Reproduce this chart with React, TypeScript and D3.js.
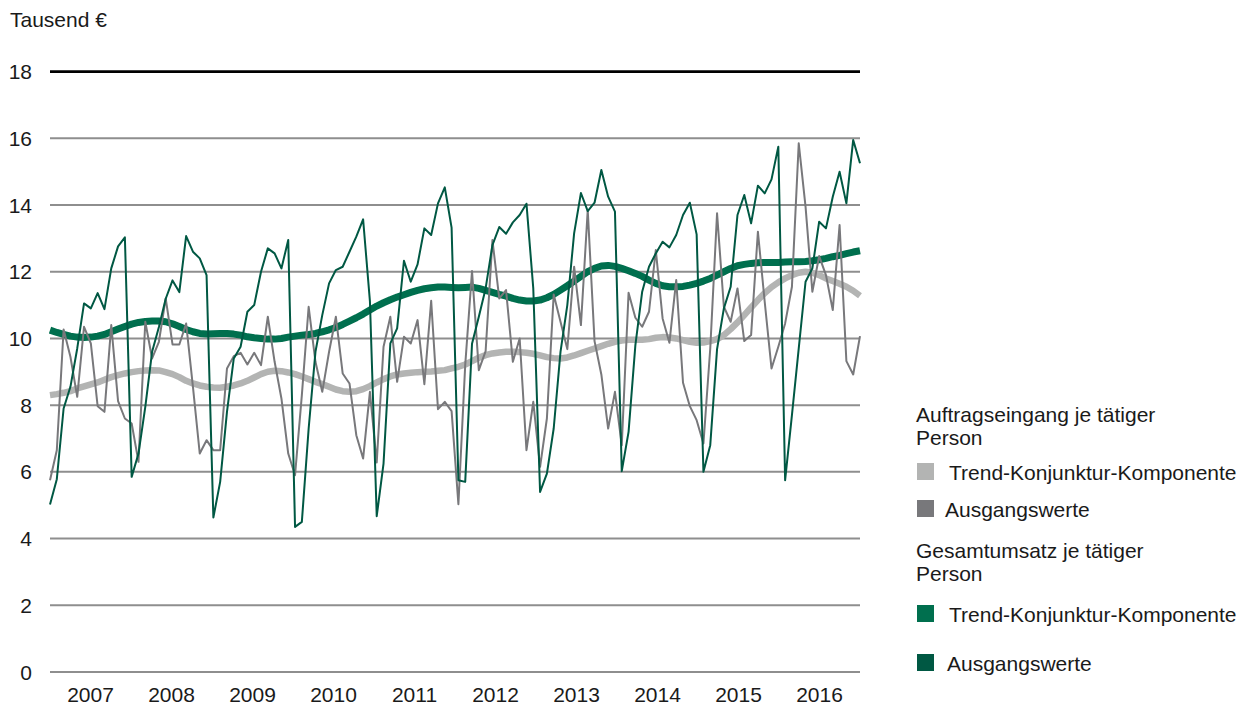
import React from "react";
import * as d3 from "d3";

const years = ["2007", "2008", "2009", "2010", "2011", "2012", "2013", "2014", "2015", "2016"];
const yTicks = [0, 2, 4, 6, 8, 10, 12, 14, 16, 18];

// Auftragseingang je tätiger Person – Trend-Konjunktur-Komponente
const auftragTrend = [
  8.3, 8.33, 8.37, 8.42, 8.5, 8.56, 8.62, 8.68, 8.76, 8.84, 8.9, 8.95,
  8.99, 9.02, 9.04, 9.05, 9.04, 8.99, 8.93, 8.84, 8.73, 8.65, 8.59, 8.55,
  8.53, 8.52, 8.55, 8.59, 8.65, 8.73, 8.83, 8.93, 9.0, 9.03, 9.02, 8.98,
  8.93, 8.86, 8.78, 8.7, 8.63, 8.55, 8.47, 8.42, 8.4, 8.42, 8.48, 8.57,
  8.68, 8.78, 8.86, 8.92, 8.95, 8.97, 8.99, 9.0, 9.01, 9.03, 9.05, 9.1,
  9.15, 9.22, 9.32, 9.42, 9.5, 9.55, 9.58, 9.6, 9.6, 9.59, 9.57, 9.54,
  9.49, 9.44, 9.41, 9.4, 9.43, 9.49, 9.56, 9.63, 9.7, 9.77, 9.84, 9.9,
  9.94, 9.96, 9.96, 9.96, 9.98, 10.02, 10.04, 10.03, 10.0, 9.95, 9.9, 9.87,
  9.88, 9.92, 9.98, 10.1, 10.28, 10.48, 10.7, 10.93, 11.15, 11.36, 11.54, 11.68,
  11.8, 11.9, 11.97, 12.0, 11.97, 11.9, 11.8, 11.72, 11.64, 11.55, 11.43, 11.28,
];

// Auftragseingang je tätiger Person – Ausgangswerte
const auftragRaw = [
  5.75, 6.65, 10.27, 9.45, 8.25, 10.35, 9.85, 7.97, 7.8, 10.4, 8.12, 7.6,
  7.45, 6.3, 10.5, 9.4, 9.9, 11.2, 9.82, 9.82, 10.45, 8.55, 6.55, 6.95,
  6.65, 6.65, 9.1, 9.47, 9.57, 9.22, 9.57, 9.2, 10.65, 9.3, 8.2, 6.55,
  5.9, 8.3, 10.95, 9.3, 8.4, 9.6, 10.65, 8.95, 8.65, 7.1, 6.4, 8.4,
  6.28, 9.75, 10.65, 8.7, 10.05, 9.85, 10.55, 8.63, 11.13, 7.88, 8.1, 7.82,
  5.03, 9.2, 12.02, 9.05, 9.62, 12.95, 11.2, 11.45, 9.3, 10.0, 6.65, 8.1,
  6.15, 7.6, 11.32, 10.5, 9.68, 12.15, 10.4, 13.85, 9.92, 8.92, 7.3, 8.4,
  6.8, 11.37, 10.62, 10.35, 10.8, 12.65, 10.6, 9.87, 11.75, 8.67, 7.97, 7.55,
  6.85, 9.7, 13.75, 10.95, 10.5, 11.5, 9.92, 10.1, 13.2, 11.1, 9.1, 9.75,
  10.45, 11.55, 15.85, 13.95, 11.4, 12.47, 11.9, 10.85, 13.4, 9.32, 8.92, 10.07,
];

// Gesamtumsatz je tätiger Person – Trend-Konjunktur-Komponente
const umsatzTrend = [
  10.25, 10.18, 10.12, 10.07, 10.04, 10.03, 10.04, 10.07, 10.12, 10.2, 10.28, 10.36,
  10.43, 10.48, 10.51, 10.52, 10.52, 10.5, 10.44, 10.36, 10.27, 10.2, 10.15, 10.13,
  10.14, 10.15, 10.15, 10.13, 10.1, 10.05, 10.02, 10.0, 9.98, 9.98, 10.0, 10.04,
  10.07, 10.1, 10.12, 10.15, 10.2, 10.26, 10.33, 10.42, 10.52, 10.62, 10.73, 10.85,
  10.97, 11.07, 11.16, 11.24, 11.31, 11.38, 11.44, 11.49, 11.52, 11.54, 11.54, 11.53,
  11.52, 11.53, 11.54, 11.5, 11.44, 11.38, 11.32, 11.27, 11.2, 11.15, 11.12, 11.12,
  11.15, 11.22, 11.32, 11.45, 11.58, 11.72, 11.86, 12.0, 12.1, 12.17, 12.19, 12.16,
  12.1, 12.03, 11.95, 11.86, 11.75, 11.65, 11.58, 11.55, 11.55, 11.56, 11.6, 11.65,
  11.72, 11.8, 11.9, 12.0, 12.1, 12.18, 12.22, 12.25, 12.27, 12.28, 12.28, 12.28,
  12.29, 12.3, 12.3, 12.31, 12.33, 12.36, 12.4, 12.45, 12.49, 12.54, 12.59, 12.63,
];

// Gesamtumsatz je tätiger Person – Ausgangswerte
const umsatzRaw = [
  5.02, 5.78, 7.9, 8.55, 9.7, 11.05, 10.9, 11.36, 10.88, 12.1, 12.76, 13.03,
  5.85, 6.55, 7.95, 9.6, 10.34, 11.19, 11.74, 11.39, 13.07, 12.6, 12.4, 11.9,
  4.63, 5.7, 7.8, 9.4, 9.75, 10.8, 11.0, 12.0, 12.7, 12.55, 12.1, 12.95,
  4.35, 4.5, 7.3, 9.6, 10.7, 11.65, 12.05, 12.15, 12.6, 13.05, 13.57, 11.12,
  4.67, 6.25, 9.85, 10.3, 12.33, 11.7, 12.22, 13.3, 13.1, 14.05, 14.53, 13.32,
  5.75, 5.7, 9.84, 10.65, 11.5, 12.8, 13.34, 13.14, 13.48, 13.7, 14.04, 11.5,
  5.4, 5.95, 7.3, 9.6, 11.0, 13.15, 14.36, 13.82, 14.07, 15.05, 14.25, 13.8,
  6.02, 7.2, 9.8, 11.4, 12.15, 12.55, 12.9, 12.73, 13.1, 13.7, 14.07, 13.12,
  6.0, 6.8, 9.68, 10.9, 11.55, 13.7, 14.3, 13.45, 14.58, 14.35, 14.77, 15.75,
  5.75, 7.7, 9.7, 11.7, 12.1, 13.5, 13.3, 14.25, 15.0, 14.05, 15.95, 15.25,
];

const C_GREY_TREND = "#b3b4b3";
const C_GREY_RAW = "#78787b";
const C_GREEN_TREND = "#006f4e";
const C_GREEN_RAW = "#005843";
const FONT = "'Liberation Sans', Arial, Helvetica, sans-serif";

export default function App() {
  const W = 1255;
  const H = 711;
  const left = 50;
  const right = 860;
  const top = 71.6;
  const bottom = 672;

  const x = d3.scaleLinear().domain([0, auftragRaw.length - 1]).range([left, right]);
  const y = d3.scaleLinear().domain([0, 18]).range([bottom, top]);
  const xYear = d3.scaleBand().domain(years).range([left, right]);

  const line = d3
    .line<number>()
    .x((_, i) => x(i))
    .y((d) => y(d));

  const legendItems = [
    { type: "head", lines: ["Auftragseingang je tätiger", "Person"], y: 421.5 },
    { type: "item", label: "Trend-Konjunktur-Komponente", color: C_GREY_TREND, y: 480, tx: 949 },
    { type: "item", label: "Ausgangswerte", color: C_GREY_RAW, y: 517, tx: 945 },
    { type: "head", lines: ["Gesamtumsatz je tätiger", "Person"], y: 558 },
    { type: "item", label: "Trend-Konjunktur-Komponente", color: C_GREEN_TREND, y: 622, tx: 949 },
    { type: "item", label: "Ausgangswerte", color: C_GREEN_RAW, y: 671, tx: 947 },
  ];

  return (
    <svg
      width={W}
      height={H}
      style={{ position: "absolute", left: 0, top: 0, background: "#fff" }}
      fontFamily={FONT}
    >
      <text x={10} y={26.5} fontSize={21} fill="#1a1a1a">
        Tausend €
      </text>

      {yTicks.map((t) => (
        <g key={t}>
          <line
            x1={left}
            x2={right}
            y1={y(t)}
            y2={y(t)}
            stroke={t === 18 ? "#000" : "#8e8e8e"}
            strokeWidth={t === 18 ? 2.6 : 2}
          />
          <text x={32} y={y(t) + 7.5} fontSize={21} textAnchor="end" fill="#1a1a1a">
            {t}
          </text>
        </g>
      ))}

      {years.map((yr) => (
        <text
          key={yr}
          x={(xYear(yr) as number) + xYear.bandwidth() / 2}
          y={702}
          fontSize={21}
          textAnchor="middle"
          fill="#1a1a1a"
        >
          {yr}
        </text>
      ))}

      <path d={line(auftragTrend) as string} fill="none" stroke={C_GREY_TREND} strokeWidth={6.5} strokeLinejoin="round" />
      <path d={line(umsatzTrend) as string} fill="none" stroke={C_GREEN_TREND} strokeWidth={7} strokeLinejoin="round" />
      <path d={line(auftragRaw) as string} fill="none" stroke={C_GREY_RAW} strokeWidth={2} strokeLinejoin="round" />
      <path d={line(umsatzRaw) as string} fill="none" stroke={C_GREEN_RAW} strokeWidth={2} strokeLinejoin="round" />

      {legendItems.map((it, k) =>
        it.type === "head" ? (
          <text key={k} x={916} y={it.y} fontSize={21} fill="#1a1a1a">
            <tspan x={916}>{it.lines![0]}</tspan>
            <tspan x={916} dy={23}>
              {it.lines![1]}
            </tspan>
          </text>
        ) : (
          <g key={k}>
            <rect x={917} y={(it.y as number) - 17} width={17} height={17} fill={it.color} />
            <text x={it.tx} y={it.y} fontSize={21} fill="#1a1a1a">
              {it.label}
            </text>
          </g>
        )
      )}
    </svg>
  );
}
